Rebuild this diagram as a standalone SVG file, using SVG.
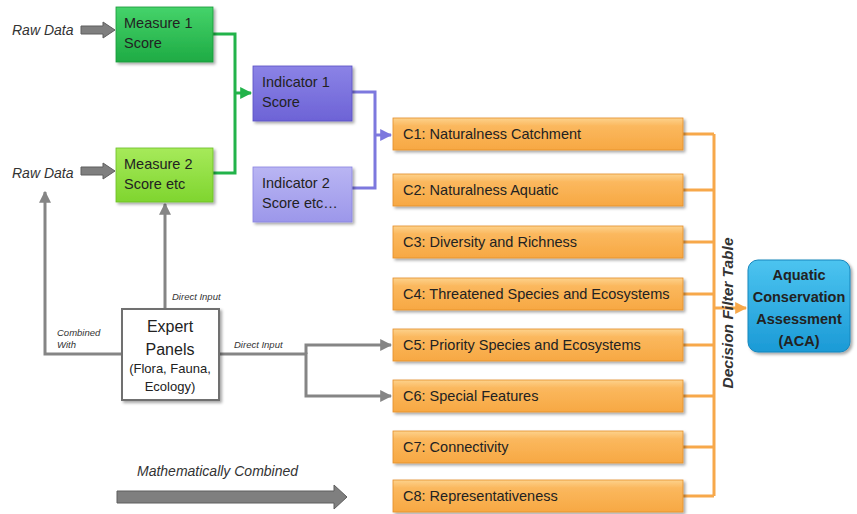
<svg xmlns="http://www.w3.org/2000/svg" width="857" height="514" viewBox="0 0 857 514">
<defs>
<filter id="sh" x="-10%" y="-20%" width="125%" height="150%"><feDropShadow dx="2" dy="2" stdDeviation="1.5" flood-color="#000" flood-opacity="0.35"/></filter>
<linearGradient id="gM1" x1="0" y1="0" x2="0" y2="1"><stop offset="0" stop-color="#45d36a"/><stop offset="1" stop-color="#1eab44"/></linearGradient>
<linearGradient id="gM2" x1="0" y1="0" x2="0" y2="1"><stop offset="0" stop-color="#a6ea5a"/><stop offset="1" stop-color="#7fd52f"/></linearGradient>
<linearGradient id="gI1" x1="0" y1="0" x2="0" y2="1"><stop offset="0" stop-color="#8b83e6"/><stop offset="1" stop-color="#6d63d6"/></linearGradient>
<linearGradient id="gI2" x1="0" y1="0" x2="0" y2="1"><stop offset="0" stop-color="#b9b5f3"/><stop offset="1" stop-color="#9c97ea"/></linearGradient>
<linearGradient id="gC" x1="0" y1="0" x2="0" y2="1"><stop offset="0" stop-color="#fdd28c"/><stop offset="0.25" stop-color="#fbb85e"/><stop offset="1" stop-color="#f7a843"/></linearGradient>
<linearGradient id="gA" x1="0" y1="0" x2="0" y2="1"><stop offset="0" stop-color="#4cc4f0"/><stop offset="1" stop-color="#1b9ad6"/></linearGradient>
<marker id="aG" viewBox="0 0 10 10" refX="9" refY="5" markerWidth="4" markerHeight="4" orient="auto"><path d="M0,0 L10,5 L0,10 z" fill="#22b34a"/></marker>
<marker id="aP" viewBox="0 0 10 10" refX="9" refY="5" markerWidth="4" markerHeight="4" orient="auto"><path d="M0,0 L10,5 L0,10 z" fill="#7d78de"/></marker>
<marker id="aO" viewBox="0 0 10 10" refX="9" refY="5" markerWidth="4" markerHeight="4" orient="auto"><path d="M0,0 L10,5 L0,10 z" fill="#f7a84a"/></marker>
<marker id="aK" viewBox="0 0 10 10" refX="9" refY="5" markerWidth="4" markerHeight="4" orient="auto"><path d="M0,0 L10,5 L0,10 z" fill="#858585"/></marker>
</defs>
<style>
text{font-family:"Liberation Sans",Arial,sans-serif;fill:#222}
.bx{font-size:14.5px}
.lab{font-size:14px;font-style:italic;fill:#333}
.sm{font-size:9.5px;font-style:italic;fill:#333}
.c{stroke:#e48e2a;stroke-width:0.8;fill:url(#gC);filter:url(#sh)}
.blk{fill:#7f7f7f;stroke:#5e5e5e;stroke-width:1}
.gline{fill:none;stroke:#858585;stroke-width:3}
</style>
<rect width="857" height="514" fill="#fff"/>

<g id="connectors">
<path d="M213,34 H235 V173 H213" fill="none" stroke="#22b34a" stroke-width="3"/>
<path d="M235,93 H251" fill="none" stroke="#22b34a" stroke-width="3" marker-end="url(#aG)"/>
<path d="M352,92 H375 V188 H352" fill="none" stroke="#7d78de" stroke-width="3"/>
<path d="M375,135 H391" fill="none" stroke="#7d78de" stroke-width="3" marker-end="url(#aP)"/>
<path d="M683,134 H714 M683,190 H714 M683,242 H714 M683,294 H714 M683,345 H714 M683,396 H714 M683,447 H714 M683,496 H714 M714,134 V496" fill="none" stroke="#f7a84a" stroke-width="3"/>
<path d="M714,308 H746" fill="none" stroke="#f7a84a" stroke-width="3" marker-end="url(#aO)"/>
<path d="M165,309 V204" class="gline" marker-end="url(#aK)"/>
<path d="M122,354 H45 V192" class="gline" marker-end="url(#aK)"/>
<path d="M219,354 H306 V396 H391" class="gline" marker-end="url(#aK)"/>
<path d="M306,354 V345 H391" class="gline" marker-end="url(#aK)"/>
<path d="M81,26 H103 V22 L115,30 L103,38 V34 H81 Z" class="blk"/>
<path d="M81,167 H103 V163 L115,171 L103,179 V175 H81 Z" class="blk"/>
<path d="M117,491 H334 V485 L347,497 L334,509 V503 H117 Z" class="blk"/>
<text x="12" y="35" class="lab">Raw Data</text>
<text x="12" y="178" class="lab">Raw Data</text>
<text x="172" y="300" class="sm">Direct Input</text>
<text x="57" y="336" class="sm">Combined</text>
<text x="57" y="348" class="sm">With</text>
<text x="234" y="348" class="sm">Direct Input</text>
<text x="137" y="476" class="lab">Mathematically Combined</text>
<text transform="translate(733,313) rotate(-90)" text-anchor="middle" style="font-size:15.5px;font-style:italic;font-weight:bold;fill:#333">Decision Filter Table</text>
</g>

<g id="measure1"><rect x="116" y="7" width="97" height="55" fill="url(#gM1)" stroke="#159a3a" stroke-width="0.8" filter="url(#sh)"/><text x="124" y="28" class="bx">Measure 1</text><text x="124" y="48" class="bx">Score</text></g>
<g id="measure2"><rect x="116" y="148" width="97" height="54" fill="url(#gM2)" stroke="#6cbf25" stroke-width="0.8" filter="url(#sh)"/><text x="124" y="169" class="bx">Measure 2</text><text x="124" y="189" class="bx">Score etc</text></g>
<g id="indicator1"><rect x="253" y="66" width="99" height="55" fill="url(#gI1)" stroke="#5a50c4" stroke-width="0.8" filter="url(#sh)"/><text x="262" y="87" class="bx">Indicator 1</text><text x="262" y="107" class="bx">Score</text></g>
<g id="indicator2"><rect x="253" y="167" width="99" height="55" fill="url(#gI2)" stroke="#8a84e0" stroke-width="0.8" filter="url(#sh)"/><text x="262" y="188" class="bx">Indicator 2</text><text x="262" y="208" class="bx">Score etc…</text></g>

<g id="c1"><rect x="393" y="118" width="290" height="32" class="c"/><text x="403" y="139" class="bx">C1: Naturalness Catchment</text></g>
<g id="c2"><rect x="393" y="174" width="290" height="32" class="c"/><text x="403" y="195" class="bx">C2: Naturalness Aquatic</text></g>
<g id="c3"><rect x="393" y="226" width="290" height="32" class="c"/><text x="403" y="247" class="bx">C3: Diversity and Richness</text></g>
<g id="c4"><rect x="393" y="278" width="290" height="32" class="c"/><text x="403" y="299" class="bx">C4: Threatened Species and Ecosystems</text></g>
<g id="c5"><rect x="393" y="329" width="290" height="32" class="c"/><text x="403" y="350" class="bx">C5: Priority Species and Ecosystems</text></g>
<g id="c6"><rect x="393" y="380" width="290" height="32" class="c"/><text x="403" y="401" class="bx">C6: Special Features</text></g>
<g id="c7"><rect x="393" y="431" width="290" height="32" class="c"/><text x="403" y="452" class="bx">C7: Connectivity</text></g>
<g id="c8"><rect x="393" y="480" width="290" height="32" class="c"/><text x="403" y="501" class="bx">C8: Representativeness</text></g>

<g id="expert"><rect x="122" y="309" width="97" height="91" fill="#fff" stroke="#707070" stroke-width="2" filter="url(#sh)"/>
<text x="170" y="332" text-anchor="middle" style="font-size:16px">Expert</text>
<text x="170" y="355" text-anchor="middle" style="font-size:16px">Panels</text>
<text x="170" y="373" text-anchor="middle" style="font-size:13px">(Flora, Fauna,</text>
<text x="170" y="391" text-anchor="middle" style="font-size:13px">Ecology)</text></g>

<g id="aca"><rect x="748" y="260" width="102" height="92" rx="10" fill="url(#gA)" stroke="#1686bd" stroke-width="1" filter="url(#sh)"/>
<g style="font-size:14.5px;font-weight:bold" text-anchor="middle"><text x="799" y="280">Aquatic</text><text x="799" y="302">Conservation</text><text x="799" y="324">Assessment</text><text x="799" y="346">(ACA)</text></g></g>
</svg>
